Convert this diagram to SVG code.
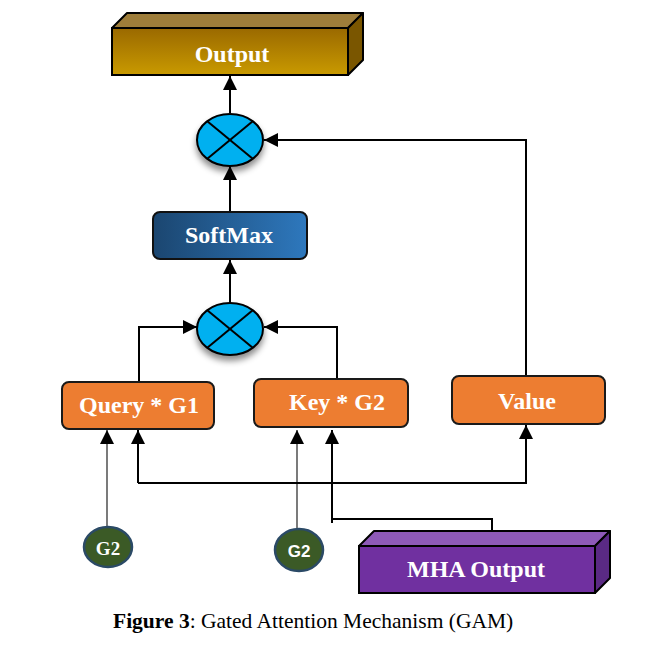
<svg xmlns="http://www.w3.org/2000/svg" width="652" height="647" viewBox="0 0 652 647">
<style>
.lbl{font-family:"Liberation Serif","Times New Roman",serif;font-weight:bold;fill:#fff;text-anchor:middle;font-size:24px}
.conn{fill:none;stroke:#000;stroke-width:2}
.thin{fill:none;stroke:#333;stroke-width:1.3}
.obox{fill:#ed7d31;stroke:#1a1a1a;stroke-width:2}
.mul{fill:#00b0f0;stroke:#000;stroke-width:2}
.x{stroke:#000;stroke-width:2}
.g2{fill:#3b5a26;stroke:#2b4a66;stroke-width:2.5}
</style>
<defs>
<marker id="ah" markerUnits="userSpaceOnUse" markerWidth="16" markerHeight="16" viewBox="0 0 16 16" refX="15" refY="8" orient="auto">
<path d="M1,1 L15,8 L1,15 Z" fill="#000"/>
</marker>
<linearGradient id="outG" x1="0" y1="0" x2="0" y2="1">
<stop offset="0" stop-color="#9a6900"/>
<stop offset="1" stop-color="#c99a00"/>
</linearGradient>
<linearGradient id="smG" x1="0" y1="0" x2="1" y2="0">
<stop offset="0" stop-color="#1b4670"/>
<stop offset="1" stop-color="#2e78bd"/>
</linearGradient>
<filter id="sh" x="-30%" y="-30%" width="160%" height="180%">
<feDropShadow dx="0" dy="5" stdDeviation="3" flood-color="#000" flood-opacity="0.45"/>
</filter>
</defs>
<rect width="652" height="647" fill="#fff"/>

<g id="connectors">
<path class="conn" d="M230,113 L230,76" marker-end="url(#ah)"/>
<path class="conn" d="M526,376 L526,140 L264,140" marker-end="url(#ah)"/>
<path class="conn" d="M230,212 L230,166" marker-end="url(#ah)"/>
<path class="conn" d="M230,303 L230,260" marker-end="url(#ah)"/>
<path class="conn" d="M139,382 L139,327 L197,327" marker-end="url(#ah)"/>
<path class="conn" d="M337,379 L337,327 L264,327" marker-end="url(#ah)"/>
<path class="thin" d="M107,527 L107,430" marker-end="url(#ah)"/>
<path class="thin" d="M297,529 L297,430" marker-end="url(#ah)"/>
<path class="conn" d="M138,483 L138,430" marker-end="url(#ah)"/>
<path class="conn" d="M138,483 L526,483 L526,425" marker-end="url(#ah)"/>
<path class="conn" d="M492,531 L492,519 L332,519 L332,430" marker-end="url(#ah)"/>
<path class="conn" d="M332,519 L332,523"/>
</g>

<g id="output">
<polygon points="112,28 127,13 363,13 348,28" fill="#9e7d3a" stroke="#000" stroke-width="2" stroke-linejoin="round"/>
<polygon points="348,28 363,13 363,60 348,75" fill="#7a5600" stroke="#000" stroke-width="2" stroke-linejoin="round"/>
<rect x="112" y="28" width="236" height="47" fill="url(#outG)" stroke="#000" stroke-width="2"/>
<text class="lbl" x="232" y="62">Output</text>
</g>

<g id="mul1">
<ellipse class="mul" cx="230" cy="140" rx="33" ry="26" filter="url(#sh)"/>
<line class="x" x1="207" y1="121" x2="253" y2="159"/>
<line class="x" x1="253" y1="121" x2="207" y2="159"/>
</g>

<g id="softmax">
<rect x="153" y="212" width="154" height="47" rx="7" fill="url(#smG)" stroke="#111" stroke-width="2"/>
<text class="lbl" x="229" y="243">SoftMax</text>
</g>

<g id="mul2">
<ellipse class="mul" cx="230" cy="329" rx="33" ry="26" filter="url(#sh)"/>
<line class="x" x1="207" y1="310" x2="253" y2="348"/>
<line class="x" x1="253" y1="310" x2="207" y2="348"/>
</g>

<g id="query">
<rect class="obox" x="62" y="382" width="152" height="47" rx="7"/>
<text class="lbl" x="139" y="413">Query * G1</text>
</g>

<g id="key">
<rect class="obox" x="254" y="379" width="154" height="48" rx="7"/>
<text class="lbl" x="337" y="410">Key * G2</text>
</g>

<g id="value">
<rect class="obox" x="452" y="376" width="153" height="48" rx="7"/>
<text class="lbl" x="527" y="409">Value</text>
</g>

<g id="g2a">
<ellipse class="g2" cx="108" cy="547" rx="24" ry="20"/>
<text x="108" y="555" text-anchor="middle" font-family="Liberation Serif, serif" font-weight="bold" font-size="19" fill="#fff">G2</text>
</g>

<g id="g2b">
<ellipse class="g2" cx="299" cy="550" rx="24" ry="21"/>
<text x="299" y="557" text-anchor="middle" font-family="Liberation Sans, Arial, sans-serif" font-weight="bold" font-size="17" fill="#fff">G2</text>
</g>

<g id="mha">
<polygon points="359,546 374,531 610,531 595,546" fill="#8e5ab8" stroke="#000" stroke-width="2" stroke-linejoin="round"/>
<polygon points="595,546 610,531 610,578 595,593" fill="#5a2a84" stroke="#000" stroke-width="2" stroke-linejoin="round"/>
<rect x="359" y="546" width="236" height="47" fill="#7030a0" stroke="#000" stroke-width="2"/>
<text class="lbl" x="476" y="577">MHA Output</text>
</g>

<text x="113" y="628" font-family="Liberation Serif, 'Times New Roman', serif" font-size="21.5" fill="#000"><tspan font-weight="bold">Figure 3</tspan>: Gated Attention Mechanism (GAM)</text>
</svg>
